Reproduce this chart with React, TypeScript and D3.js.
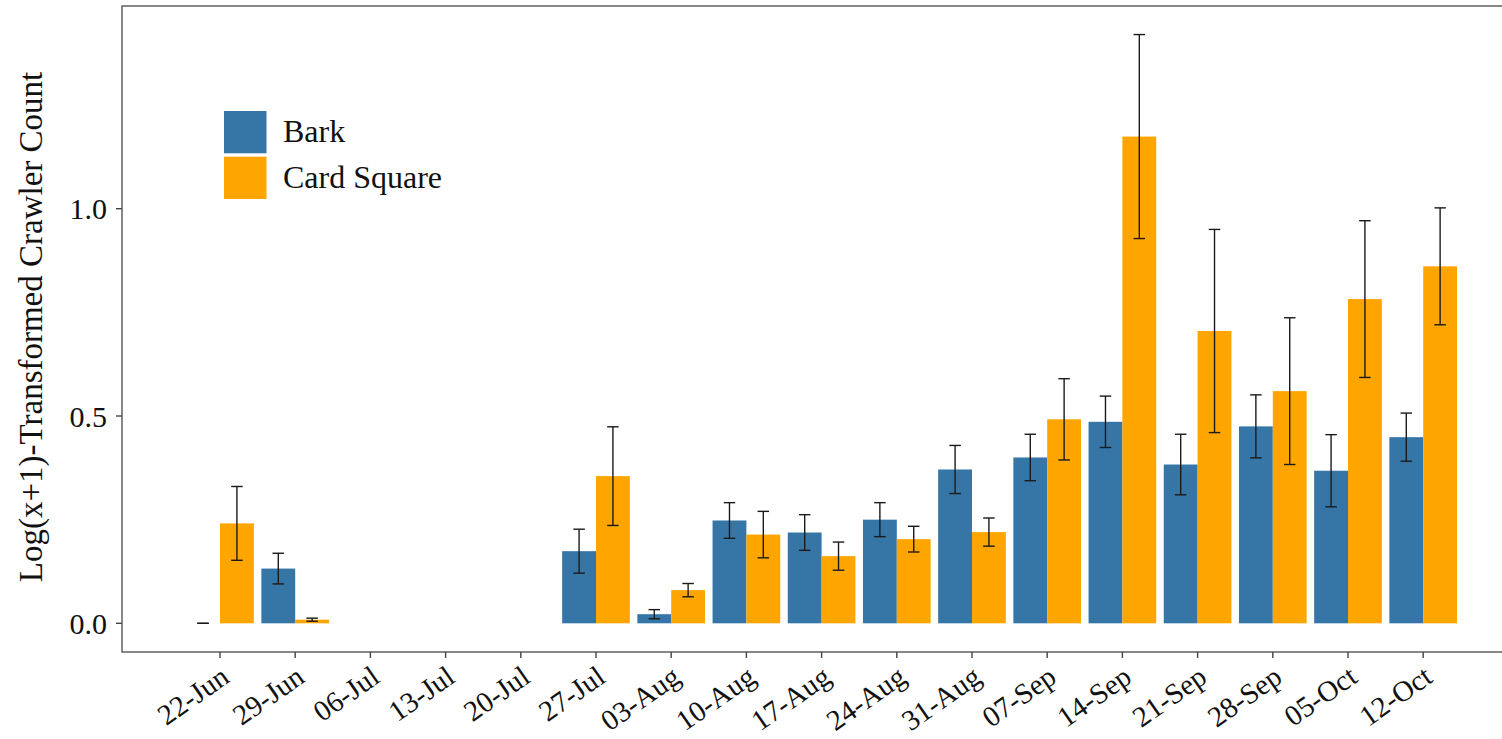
import React from "react";
import * as d3 from "d3";

// Sampling dates (weekly)
const dates = [
  "22-Jun", "29-Jun", "06-Jul", "13-Jul", "20-Jul", "27-Jul", "03-Aug", "10-Aug", "17-Aug",
  "24-Aug", "31-Aug", "07-Sep", "14-Sep", "21-Sep", "28-Sep", "05-Oct", "12-Oct",
];

// Mean log(x+1) crawler counts and standard errors per sampling method (null = not sampled)
const barkMean = [0, 0.132, null, null, null, 0.174, 0.022, 0.248, 0.219, 0.25, 0.371, 0.4, 0.486, 0.383, 0.475, 0.368, 0.449];
const barkSE = [0, 0.037, null, null, null, 0.053, 0.011, 0.043, 0.043, 0.041, 0.058, 0.056, 0.062, 0.073, 0.076, 0.087, 0.058];
const cardMean = [0.241, 0.0087, null, null, null, 0.355, 0.08, 0.214, 0.162, 0.203, 0.22, 0.492, 1.174, 0.705, 0.56, 0.782, 0.861];
const cardSE = [0.089, 0.0037, null, null, null, 0.119, 0.016, 0.056, 0.034, 0.031, 0.034, 0.098, 0.246, 0.245, 0.177, 0.189, 0.141];

const yTicks = [0, 0.5, 1.0];

const seriesNames = ["Bark", "Card Square"];
const seriesColors = ["#3676a7", "#ffa500"];

const W = 1502;
const H = 739;
const FONT = "'Liberation Serif', 'Times New Roman', serif";

export default function App() {
  const panel = { left: 122, top: 6, right: 1524, bottom: 652 };

  const x = d3.scalePoint<string>().domain(dates).range([220, 1423.2]);
  const step = x.step();
  const groupW = step * 0.9;
  const barW = groupW / 2;
  const capW = 11.5;

  const y = d3.scaleLinear().domain([-0.0692, 1.4889]).range([panel.bottom, panel.top]);

  const series = [
    { mean: barkMean, se: barkSE, offset: -barW },
    { mean: cardMean, se: cardSE, offset: 0 },
  ];

  return (
    <svg
      width={W}
      height={H}
      style={{ position: "absolute", left: 0, top: 0, background: "#fff" }}
      fontFamily={FONT}
    >
      <rect x={0} y={0} width={W} height={H} fill="#fff" />

      {/* bars */}
      {series.map((s, si) =>
        dates.map((d, i) => {
          const m = s.mean[i];
          if (m == null) return null;
          const x0 = (x(d) as number) + s.offset;
          return (
            <rect
              key={`b${si}-${i}`}
              x={x0}
              y={y(m)}
              width={barW}
              height={y(0) - y(m)}
              fill={seriesColors[si]}
            />
          );
        })
      )}

      {/* error bars */}
      {series.map((s, si) =>
        dates.map((d, i) => {
          const m = s.mean[i];
          const e = s.se[i];
          if (m == null || e == null) return null;
          const cx = (x(d) as number) + s.offset + barW / 2;
          const hi = y(m + e);
          const lo = y(Math.max(0, m - e));
          return (
            <g key={`e${si}-${i}`} stroke="#1a1a1a" strokeWidth={1.4}>
              <line x1={cx} x2={cx} y1={hi} y2={lo} />
              <line x1={cx - capW / 2} x2={cx + capW / 2} y1={hi} y2={hi} />
              <line x1={cx - capW / 2} x2={cx + capW / 2} y1={lo} y2={lo} />
            </g>
          );
        })
      )}

      {/* panel border */}
      <rect
        x={panel.left}
        y={panel.top}
        width={panel.right - panel.left}
        height={panel.bottom - panel.top}
        fill="none"
        stroke="#555"
        strokeWidth={1.4}
      />

      {/* y axis */}
      {yTicks.map((t) => (
        <g key={`yt${t}`}>
          <line x1={panel.left - 6} x2={panel.left} y1={y(t)} y2={y(t)} stroke="#444" strokeWidth={1.4} />
          <text
            x={panel.left - 15}
            y={y(t)}
            dy="0.35em"
            textAnchor="end"
            fontSize={30}
            fill="#111"
          >
            {t.toFixed(1)}
          </text>
        </g>
      ))}

      {/* x axis */}
      {dates.map((d) => {
        const cx = x(d) as number;
        return (
          <g key={`xt${d}`}>
            <line x1={cx} x2={cx} y1={panel.bottom} y2={panel.bottom + 6} stroke="#444" strokeWidth={1.4} />
            <text
              transform={`translate(${cx + 11},${681}) rotate(-35)`}
              textAnchor="end"
              fontSize={29}
              fill="#111"
            >
              {d}
            </text>
          </g>
        );
      })}

      {/* y axis title */}
      <text
        transform={`translate(42,${(panel.top + panel.bottom) / 2 - 2}) rotate(-90)`}
        textAnchor="middle"
        fontSize={33}
        fill="#111"
      >
        Log(x+1)-Transformed Crawler Count
      </text>

      {/* legend */}
      {seriesNames.map((name, i) => (
        <g key={`lg${i}`}>
          <rect x={224} y={111 + i * 45.7} width={42.5} height={42.3} fill={seriesColors[i]} />
          <text x={283} y={142 + i * 45.8} fontSize={32} fill="#111">
            {name}
          </text>
        </g>
      ))}
    </svg>
  );
}
